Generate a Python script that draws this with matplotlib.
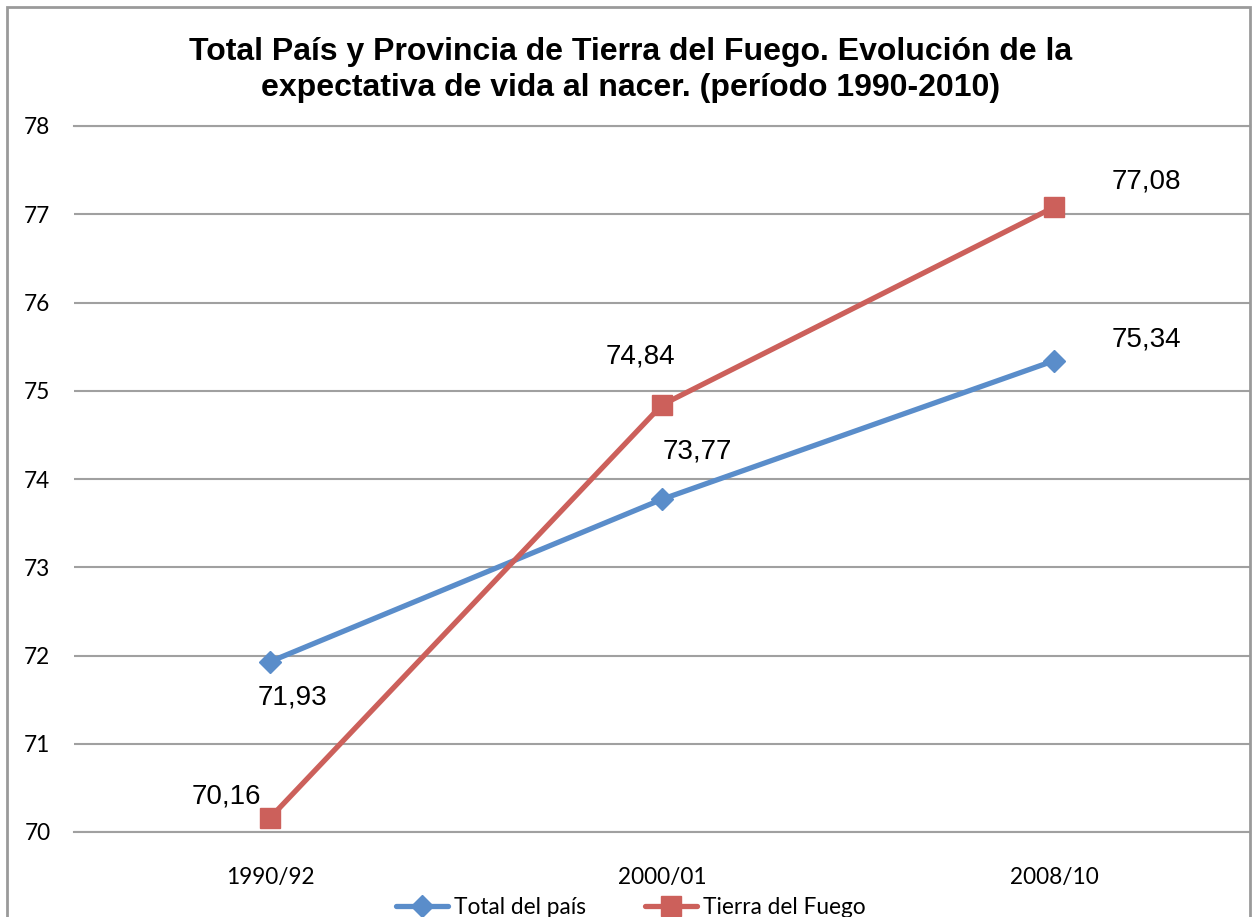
import matplotlib
matplotlib.use("Agg")
import matplotlib.pyplot as plt
from matplotlib.patches import Rectangle

categories = ["1990/92", "2000/01", "2008/10"]
total_pais = [71.93, 73.77, 75.34]
tierra_fuego = [70.16, 74.84, 77.08]
series_names = ["Total del país", "Tierra del Fuego"]
yticks = [70, 71, 72, 73, 74, 75, 76, 77, 78]
title = "Total País y Provincia de Tierra del Fuego. Evolución de la\nexpectativa de vida al nacer. (período 1990-2010)"

W, H = 1252, 917
fig = plt.figure(figsize=(W / 100, H / 100), dpi=100)
fig.patch.set_facecolor("white")

# outer chart border
fig.add_artist(Rectangle((7 / W, -0.05), (1250 - 7) / W, 1 - 7 / H + 0.05,
                         transform=fig.transFigure, fill=False,
                         edgecolor="#9a9a9a", linewidth=2))

ax = fig.add_axes([74 / W, 1 - 832 / H, (1250 - 74) / W, (832 - 126) / H])
x = list(range(len(categories)))
blue = "#5A8DCA"
red = "#CC605B"
ax.plot(x, total_pais, color=blue, lw=3.8, marker="D", markersize=11,
        label=series_names[0], zorder=3, solid_capstyle="round")
ax.plot(x, tierra_fuego, color=red, lw=3.8, marker="s", markersize=14,
        label=series_names[1], zorder=3, solid_capstyle="round")

ax.set_xlim(-0.5, len(categories) - 0.5)
ax.set_ylim(70, 78)
ax.set_yticks(yticks)
ax.set_xticks(x)
ax.set_xticklabels(categories, family="Lato", fontsize=16.3)
ax.set_yticklabels([str(v) for v in yticks], family="Lato", fontsize=16.3)
ax.tick_params(axis="both", length=0)
ax.tick_params(axis="y", pad=17)
ax.tick_params(axis="x", pad=25)
ax.yaxis.grid(True, color="#a0a0a0", lw=1.5)
ax.set_axisbelow(True)
for s in ["left", "right"]:
    ax.spines[s].set_visible(False)
for s in ["top", "bottom"]:
    ax.spines[s].set_color("#a0a0a0")
    ax.spines[s].set_linewidth(1.5)

offsets_total = [(22, -36), (35, 48), (92, 21)]
offsets_tdf = [(-44, 21), (-22, 48), (92, 26)]
for xi, v, off in zip(x, total_pais, offsets_total):
    ax.annotate(f"{v:.2f}".replace(".", ","), (xi, v), xytext=off,
                textcoords="offset pixels", ha="center", va="center",
                family="Liberation Sans", fontsize=20)
for xi, v, off in zip(x, tierra_fuego, offsets_tdf):
    ax.annotate(f"{v:.2f}".replace(".", ","), (xi, v), xytext=off,
                textcoords="offset pixels", ha="center", va="center",
                family="Liberation Sans", fontsize=20)

fig.text(631 / W, 1 - 70 / H, title, ha="center", va="center",
         family="Liberation Sans", fontweight="bold", fontsize=23,
         linespacing=1.28)

fig.legend(loc="center", bbox_to_anchor=(631 / W, 1 - 907 / H), ncol=2,
           frameon=False, prop={"family": "Lato", "size": 16.3},
           handlelength=2.3, columnspacing=2.6, handletextpad=0.27)

fig.savefig("out.png", dpi=100)
